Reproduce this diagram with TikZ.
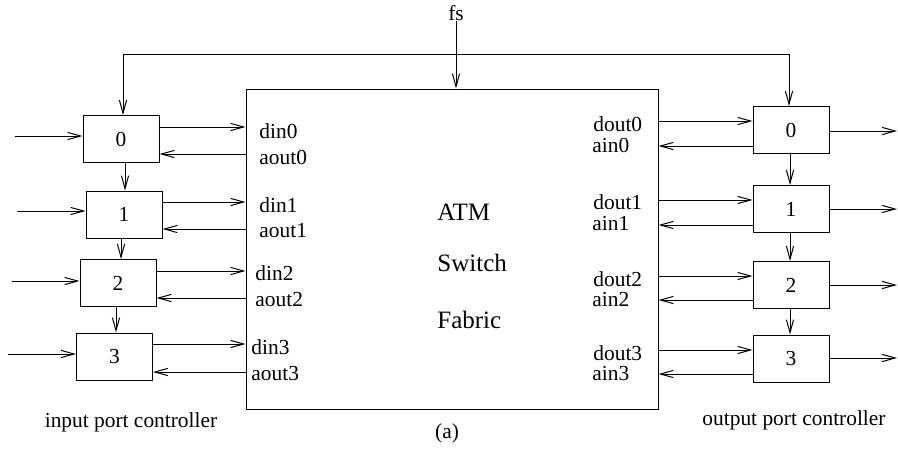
\documentclass[tikz,border=0pt]{standalone}
\usepackage{fontspec}
\setmainfont{Liberation Serif}
\usetikzlibrary{arrows.meta}
\begin{document}
\begin{tikzpicture}[x=0.5pt,y=-0.5pt,
  every node/.style={font=\fontsize{10.7pt}{13pt}\selectfont, inner sep=0pt},
  portbox/.style={draw, line width=0.5pt, minimum width=38pt, minimum height=23.5pt},
  fabbox/.style={draw, line width=0.5pt, minimum width=206pt, minimum height=160pt},
  arr/.style={line width=0.5pt, -{Straight Barb[length=6.5pt,width=3.6pt]}},
  arrb/.style={line width=0.5pt, {Straight Barb[length=6.5pt,width=3.6pt]}-{Straight Barb[length=6.5pt,width=3.6pt]}},
  lbl/.style={anchor=west},
  big/.style={anchor=west, font=\fontsize{12.5pt}{15pt}\selectfont}]
\useasboundingbox (0,0) rectangle (898,456);

% fabric
\node[fabbox] (fab) at (452,249) {};
\node[big] (atm) at (437,212) {ATM};
\node[big] (sw) at (437,263) {Switch};
\node[big] (fb) at (437,320) {Fabric};

% input port controllers
\node[portbox] (in0) at (121,139) {0};
\node[portbox] (in1) at (124,214.5) {1};
\node[portbox] (in2) at (118,283) {2};
\node[portbox] (in3) at (114.5,356.5) {3};

% output port controllers
\node[portbox] (out0) at (791,130) {0};
\node[portbox] (out1) at (791,209) {1};
\node[portbox] (out2) at (791,285) {2};
\node[portbox] (out3) at (791,358.5) {3};

% fs
\node (fs) at (456,13) {fs};
\draw[arr] (fs.south) -- (fs.south |- fab.north);
\coordinate (tl) at (123,54);
\coordinate (tr) at (789,54);
\draw[arrb] (in0.north -| tl) -- (tl) -- (tr) -- (out0.north -| tr);

% inputs
\coordinate (i0) at (15,136);
\coordinate (i1) at (17,211);
\coordinate (i2) at (12,281);
\coordinate (i3) at (8,354);
\draw[arr] (i0) -- (in0.west |- i0);
\draw[arr] (i1) -- (in1.west |- i1);
\draw[arr] (i2) -- (in2.west |- i2);
\draw[arr] (i3) -- (in3.west |- i3);

% chain input
\draw[arr] (in0.south -| 125,0) -- (in1.north -| 125,0);
\draw[arr] (in1.south -| 121,0) -- (in2.north -| 121,0);
\draw[arr] (in2.south -| 116,0) -- (in3.north -| 116,0);

% din / aout
\draw[arr] (in0.east |- 0,127) -- (fab.west |- 0,127);
\draw[arr] (fab.west |- 0,154) -- (in0.east |- 0,154);
\draw[arr] (in1.east |- 0,202) -- (fab.west |- 0,202);
\draw[arr] (fab.west |- 0,229) -- (in1.east |- 0,229);
\draw[arr] (in2.east |- 0,271) -- (fab.west |- 0,271);
\draw[arr] (fab.west |- 0,298) -- (in2.east |- 0,298);
\draw[arr] (in3.east |- 0,344) -- (fab.west |- 0,344);
\draw[arr] (fab.west |- 0,372) -- (in3.east |- 0,372);

\node[lbl] (ld0) at (259,131) {din0};
\node[lbl] (la0) at (259,157) {aout0};
\node[lbl] (ld1) at (259,205) {din1};
\node[lbl] (la1) at (259,231) {aout1};
\node[lbl] (ld2) at (255,273) {din2};
\node[lbl] (la2) at (255,300) {aout2};
\node[lbl] (ld3) at (251,347) {din3};
\node[lbl] (la3) at (251,374) {aout3};

% dout / ain
\draw[arr] (fab.east |- 0,121) -- (out0.west |- 0,121);
\draw[arr] (out0.west |- 0,146) -- (fab.east |- 0,146);
\draw[arr] (fab.east |- 0,200) -- (out1.west |- 0,200);
\draw[arr] (out1.west |- 0,225) -- (fab.east |- 0,225);
\draw[arr] (fab.east |- 0,276) -- (out2.west |- 0,276);
\draw[arr] (out2.west |- 0,300) -- (fab.east |- 0,300);
\draw[arr] (fab.east |- 0,350) -- (out3.west |- 0,350);
\draw[arr] (out3.west |- 0,374) -- (fab.east |- 0,374);

\node[lbl] (lo0) at (593,124) {dout0};
\node[lbl] (li0) at (592,145) {ain0};
\node[lbl] (lo1) at (593,202) {dout1};
\node[lbl] (li1) at (592,224) {ain1};
\node[lbl] (lo2) at (593,279) {dout2};
\node[lbl] (li2) at (592,300) {ain2};
\node[lbl] (lo3) at (593,353) {dout3};
\node[lbl] (li3) at (592,374) {ain3};

% chain output
\draw[arr] (out0.south -| 790,0) -- (out1.north -| 790,0);
\draw[arr] (out1.south -| 790,0) -- (out2.north -| 790,0);
\draw[arr] (out2.south -| 790,0) -- (out3.north -| 790,0);

% outputs
\coordinate (o0) at (897,131);
\coordinate (o1) at (897,209);
\coordinate (o2) at (897,285);
\coordinate (o3) at (897,358);
\draw[arr] (out0.east |- o0) -- (o0);
\draw[arr] (out1.east |- o1) -- (o1);
\draw[arr] (out2.east |- o2) -- (o2);
\draw[arr] (out3.east |- o3) -- (o3);

% captions
\node (cin) at (131,422) {input port controller};
\node (cout) at (794,420) {output port controller};
\node (cap) at (447,433) {(a)};
\end{tikzpicture}
\end{document}
